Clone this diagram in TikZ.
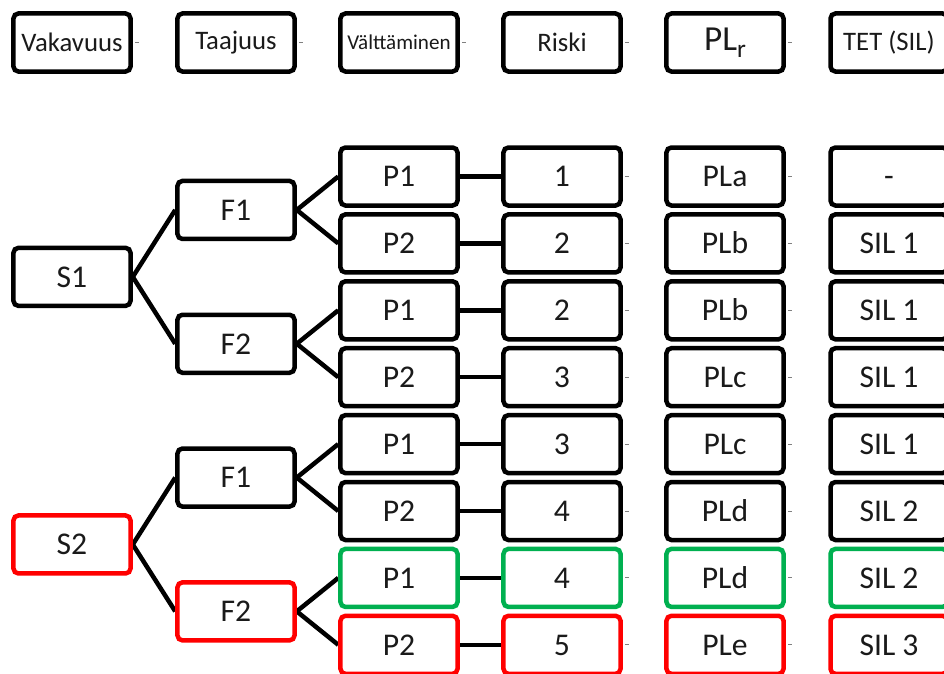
\documentclass[tikz,border=0pt]{standalone}
\usepackage{fontspec}
\setmainfont{Carlito}
\usetikzlibrary{backgrounds}
\definecolor{punainen}{RGB}{255,0,0}
\definecolor{vihrea}{RGB}{0,176,80}
\definecolor{teksti}{RGB}{26,26,26}

\begin{document}
\begin{tikzpicture}[x=0.025cm, y=-0.025cm, line width=3.2pt,
	laatikko/.style={draw=#1, fill=white, rounded corners=3.5pt, line width=3.2pt,
		minimum width=2.925cm, minimum height=1.45cm, inner sep=0pt,
		text height=14.8pt, text depth=0pt,
		text=teksti, font=\fontsize{22.5}{27}\selectfont},
	laatikko/.default=black,
	otsikko/.style={laatikko, text height=, text depth=, font=\fontsize{19}{23}\selectfont},
	haara/.style={line width=3.2pt, black},
	tynka/.style={line width=0.6pt, gray},
	]
	
	\def\hy{42.5}   % otsikkorivin korkeus
	\def\ya{176.5}  % ensimmäinen rivi
	\def\dy{66.9}   % riviväli
	
	\useasboundingbox (0,0) rectangle (944,673);
	
	%% ── Otsikot ──────────────────────────────────────────────────────────────
	\node[otsikko] (vak) at (72,\hy) {Vakavuus};
	\node[otsikko] (taa) at (236,\hy) {Taajuus};
	\node[otsikko, font=\fontsize{15}{18}\selectfont] (val) at (399,\hy) {Välttäminen};
	\node[otsikko] (ris) at (562,\hy) {Riski};
	\node[otsikko, font=\fontsize{25}{30}\selectfont] (plr) at (725,\hy)
		{PL\raisebox{-5pt}{\fontsize{18}{18}\selectfont r}};
	\node[otsikko] (tet) at (889,\hy) {TET (SIL)};
	
	%% ── Vakavuus ja taajuus ──────────────────────────────────────────────────
	\node[laatikko] (s1) at (72,{\ya+1.5*\dy}) {S1};
	\node[laatikko=punainen] (s2) at (72,{\ya+5.5*\dy}) {S2};
	\node[laatikko] (f1a) at (236,{\ya+0.5*\dy}) {F1};
	\node[laatikko] (f2a) at (236,{\ya+2.5*\dy}) {F2};
	\node[laatikko] (f1b) at (236,{\ya+4.5*\dy}) {F1};
	\node[laatikko=punainen] (f2b) at (236,{\ya+6.5*\dy}) {F2};
	
	%% ── Rivit: välttäminen, riski, PLr, TET ──────────────────────────────────
	\foreach \i/\p/\r/\pl/\sil/\c in {1/P1/1/PLa/-/black, 2/P2/2/PLb/SIL 1/black,
		3/P1/2/PLb/SIL 1/black, 4/P2/3/PLc/SIL 1/black, 5/P1/3/PLc/SIL 1/black,
		6/P2/4/PLd/SIL 2/black, 7/P1/4/PLd/SIL 2/vihrea, 8/P2/5/PLe/SIL 3/punainen}{
		\pgfmathsetmacro{\yi}{\ya+(\i-1)*\dy}
		\node[laatikko=\c] (p\i) at (399,\yi) {\p};
		\node[laatikko=\c] (r\i) at (562,\yi) {\r};
		\node[laatikko=\c] (pl\i) at (725,\yi) {\pl};
		\node[laatikko=\c] (sil\i) at (889,\yi) {\sil};
	}
	
	%% ── Haarat ───────────────────────────────────────────────────────────────
	\begin{scope}[on background layer]
		\draw[haara] (s1.east) -- (f1a.west);
		\draw[haara] (s1.east) -- (f2a.west);
		\draw[haara] (s2.east) -- (f1b.west);
		\draw[haara] (s2.east) -- (f2b.west);
		\draw[haara] (f1a.east) -- (p1.west);
		\draw[haara] (f1a.east) -- (p2.west);
		\draw[haara] (f2a.east) -- (p3.west);
		\draw[haara] (f2a.east) -- (p4.west);
		\draw[haara] (f1b.east) -- (p5.west);
		\draw[haara] (f1b.east) -- (p6.west);
		\draw[haara] (f2b.east) -- (p7.west);
		\draw[haara] (f2b.east) -- (p8.west);
		\foreach \i in {1,...,8}
		\draw[haara] (p\i.east) -- (r\i.west);
	\end{scope}
	
	%% ── Pienet tyngät ────────────────────────────────────────────────────────
	\foreach \n in {vak,taa,val,ris,plr}
	\draw[tynka] ([xshift=1.6pt]\n.east) -- ++(4,0);
	\foreach \i in {1,...,8}{
		\draw[tynka] ([xshift=1.6pt]r\i.east) -- ++(4,0);
		\draw[tynka] ([xshift=1.6pt]pl\i.east) -- ++(4,0);
	}
	
\end{tikzpicture}
\end{document}
